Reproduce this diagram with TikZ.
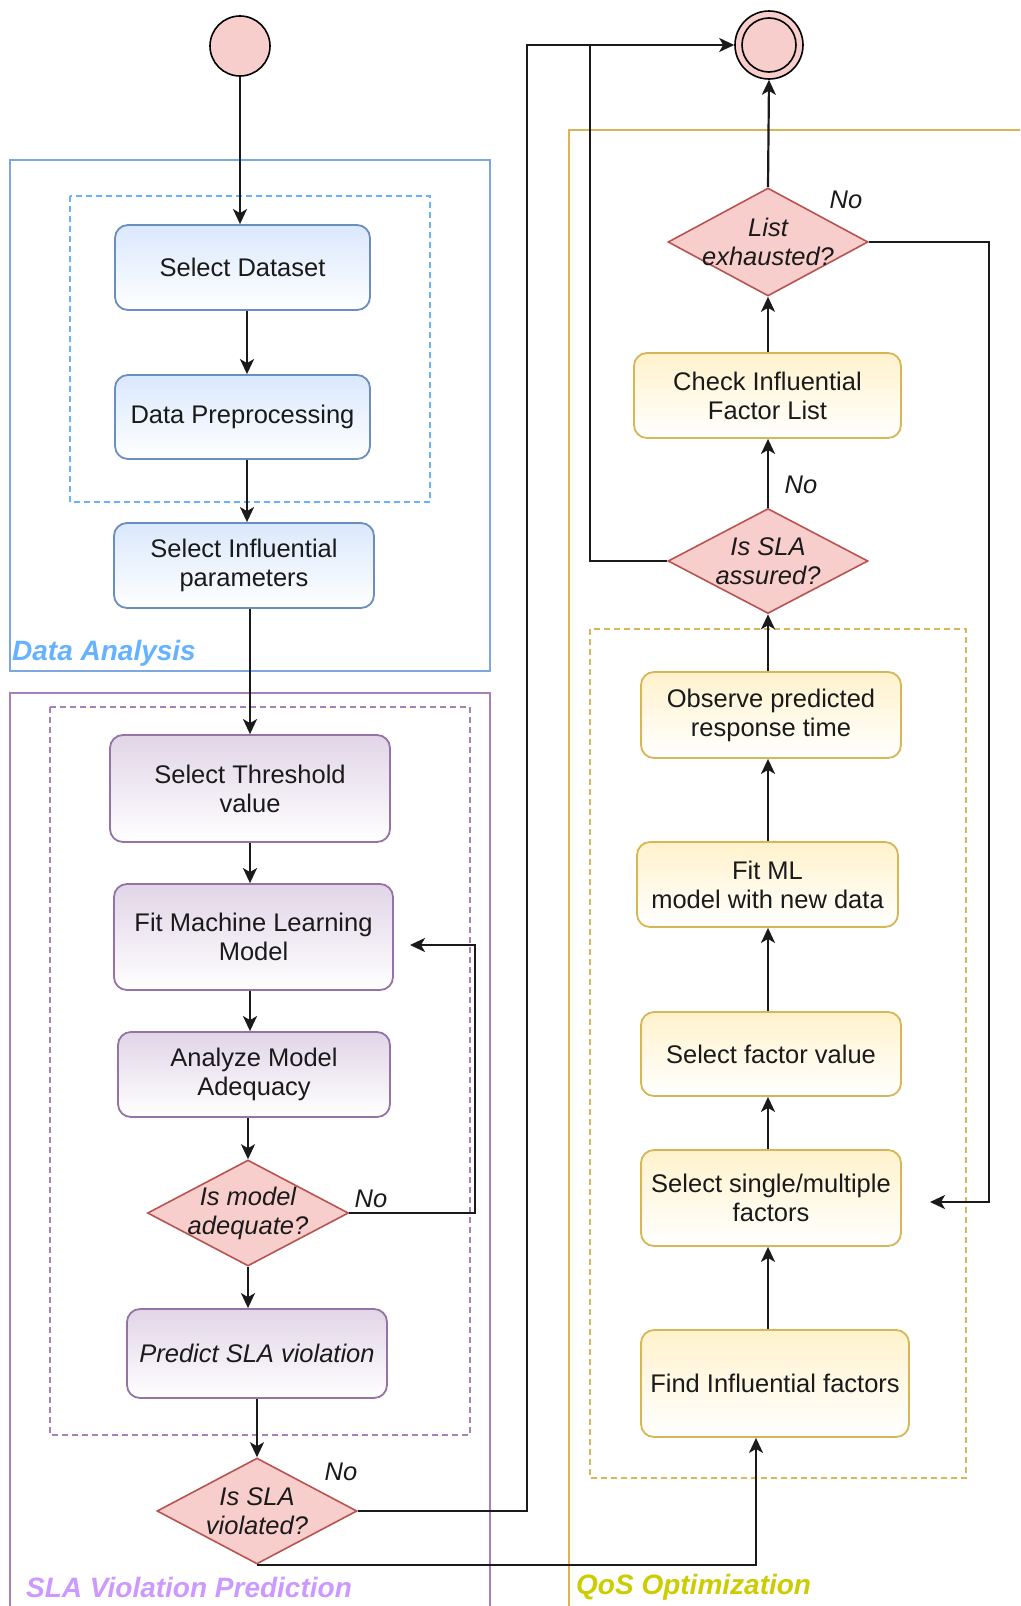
\documentclass[tikz,border=0pt]{standalone}
\usepackage{fontspec}
\setmainfont{Liberation Sans}
\usetikzlibrary{shapes.geometric,arrows.meta}

\definecolor{blueF}{HTML}{DAE8FC}
\definecolor{blueD}{HTML}{6C8EBF}
\definecolor{purF}{HTML}{E1D5E7}
\definecolor{purD}{HTML}{9673A6}
\definecolor{yelF}{HTML}{FFF2CC}
\definecolor{yelD}{HTML}{D6B656}
\definecolor{redF}{HTML}{F8CECC}
\definecolor{redD}{HTML}{B85450}
\definecolor{laneBlue}{HTML}{7EA6E0}
\definecolor{dashBlue}{HTML}{66B2FF}
\definecolor{lanePur}{HTML}{A680B8}
\definecolor{txtBlue}{HTML}{66B2FF}
\definecolor{txtPur}{HTML}{CC99FF}
\definecolor{txtYel}{HTML}{CCCC00}
\definecolor{ink}{HTML}{1A1A1A}

\begin{document}
\begin{tikzpicture}[x=1pt,y=-1pt,
  every node/.style={font=\fontsize{25.5}{29}\selectfont, text=ink},
  box/.style={rectangle, rounded corners=13pt, line width=1.8pt, align=center, inner sep=0pt},
  bluebox/.style={box, draw=blueD, top color=blueF, bottom color=white},
  purbox/.style={box, draw=purD, top color=purF, bottom color=white},
  yelbox/.style={box, draw=yelD, top color=yelF, bottom color=white},
  dia/.style={diamond, draw=redD, fill=redF, line width=1.6pt, inner sep=0pt},
  ditxt/.style={align=center, inner sep=0pt, font=\fontsize{25.5}{29}\selectfont\itshape},
  notxt/.style={inner sep=0pt, font=\fontsize{25.5}{29}\selectfont\itshape},
  flow/.style={line width=2.2pt, draw=ink, -{Stealth[length=15pt,width=14pt,inset=4pt]}},
  plain/.style={line width=2.2pt, draw=ink},
  lane/.style={line width=1.8pt},
  group/.style={line width=1.5pt, dash pattern=on 6pt off 4pt},
  lanelabel/.style={anchor=west, inner sep=0pt, font=\fontsize{28}{32}\selectfont\bfseries\itshape},
]
\useasboundingbox (0,0) rectangle (1020,1606);
\clip (0,0) rectangle (1020,1606);
\fill[white] (0,0) rectangle (1020,1606);

% swimlanes and dashed groups
\draw[lane, draw=laneBlue] (10,160) rectangle (490,671);
\draw[group, draw=dashBlue] (70,196) rectangle (430,502);
\draw[lane, draw=lanePur] (10,693) rectangle (490,1630);
\draw[group, draw=lanePur] (50,707) rectangle (470,1435);
\draw[lane, draw=yelD] (569,130) rectangle (1040,1630);
\draw[group, draw=yelD] (590,629) rectangle (966,1478);

\node[lanelabel, text=txtBlue] (labDA) at (12,653) {Data Analysis};
\node[lanelabel, text=txtPur] (labSLA) at (26,1587) {SLA Violation Prediction};
\node[lanelabel, text=txtYel] (labQoS) at (576,1587) {QoS Optimization};

% start and end states
\node[circle, draw=black, fill=redF, line width=1.6pt, minimum size=60pt, inner sep=0pt] (start) at (240,46) {};
\node[circle, draw=black, fill=redF, line width=1.6pt, minimum size=68pt, inner sep=0pt] (end) at (769,45) {};
\node[circle, draw=black, fill=redF, line width=1.6pt, minimum size=54pt, inner sep=0pt] (endin) at (end) {};

% data analysis and SLA violation prediction
\node[bluebox, minimum width=255pt, minimum height=85pt] (sd) at (242.5,267.5) {Select Dataset};
\node[bluebox, minimum width=255pt, minimum height=84pt] (dp) at (242.5,417) {Data Preprocessing};
\node[bluebox, minimum width=260pt, minimum height=85pt] (sip) at (244,565.5) {Select Influential\\parameters};
\node[purbox, minimum width=280pt, minimum height=107pt] (stv) at (250,788.5) {Select Threshold\\value};
\node[purbox, minimum width=279pt, minimum height=106pt] (fml) at (253.5,937) {Fit Machine Learning\\Model};
\node[purbox, minimum width=272pt, minimum height=85pt] (amd) at (254,1074.5) {Analyze Model\\Adequacy};
\node[dia, minimum width=201pt, minimum height=106pt] (dma) at (248,1213) {};
\node[ditxt] (dmaT) at (dma) {Is model\\adequate?};
\node[purbox, minimum width=260pt, minimum height=89pt, font=\fontsize{25.5}{29}\selectfont\itshape] (psv) at (257,1353.5) {Predict SLA violation};
\node[dia, minimum width=200pt, minimum height=106pt] (dsv) at (257,1511) {};
\node[ditxt] (dsvT) at (dsv) {Is SLA\\violated?};

% QoS optimization
\node[dia, minimum width=200pt, minimum height=108pt] (dle) at (768,242) {};
\node[ditxt] (dleT) at (dle) {List\\exhausted?};
\node[yelbox, minimum width=267pt, minimum height=85pt] (cifl) at (767.5,395.5) {Check Influential\\Factor List};
\node[dia, minimum width=200pt, minimum height=105pt] (dsa) at (768,561) {};
\node[ditxt] (dsaT) at (dsa) {Is SLA\\assured?};
\node[yelbox, minimum width=260pt, minimum height=86pt] (oprt) at (771,715) {Observe predicted\\response time};
\node[yelbox, minimum width=261pt, minimum height=85pt] (fmd) at (767.5,884.5) {Fit ML\\model with new data};
\node[yelbox, minimum width=260pt, minimum height=84pt] (sfv) at (771,1054) {Select factor value};
\node[yelbox, minimum width=260pt, minimum height=96pt] (ssm) at (771,1198) {Select single/multiple\\factors};
\node[yelbox, minimum width=268pt, minimum height=107pt] (fif) at (775,1383.5) {Find Influential factors};

% branch labels
\node[notxt] (no1) at (846,200) {No};
\node[notxt] (no2) at (801,485) {No};
\node[notxt] (no3) at (371,1199) {No};
\node[notxt] (no4) at (341,1472) {No};

% free ends of the loop-back connectors
\coordinate (fmlIn) at (410,945);
\coordinate (ssmIn) at (930,1202);
\coordinate (railTop) at (527,45);
\coordinate (railJoin) at (590,45);

% left column flow
\draw[flow] (start.south) -- (start.south |- sd.north);
\draw[flow] ([xshift=4.5pt]sd.south) -- ([xshift=4.5pt]sd.south |- dp.north);
\draw[flow] ([xshift=4.5pt]dp.south) -- ([xshift=4.5pt]dp.south |- sip.north);
\draw[flow] (stv.north |- sip.south) -- (stv.north);
\draw[flow] (stv.south) -- (stv.south |- fml.north);
\draw[flow] (fml.south -| stv.south) -- (amd.north -| stv.south);
\draw[flow] (amd.south -| dma.north) -- (dma.north);
\draw[flow] (dma.south) -- (dma.south |- psv.north);
\draw[flow] (psv.south) -- (dsv.north);
\draw[flow] (dma.east) -- ++(126,0) |- (fmlIn);

% exits of the SLA check
\draw[flow] (dsv.east) -| (railTop) -- (end);
\draw[flow] (dsv.south) -| ([xshift=-19pt]fif.south);

% right column flow
\draw[flow] (fif.north -| dsa.south) -- (ssm.south -| dsa.south);
\draw[flow] (ssm.north -| dsa.south) -- (sfv.south -| dsa.south);
\draw[flow] (sfv.north -| dsa.south) -- (fmd.south -| dsa.south);
\draw[flow] (fmd.north -| dsa.south) -- (oprt.south -| dsa.south);
\draw[flow] (oprt.north -| dsa.south) -- (dsa.south);
\draw[flow] (dsa.north) -- (cifl.south -| dsa.north);
\draw[flow] (cifl.north -| dle.south) -- (dle.south);
\draw[flow] (dle.north) -- (end.south);
\draw[plain] (dsa.west) -| (railJoin);
\draw[flow] (dle.east) -- ++(120,0) |- (ssmIn);
\end{tikzpicture}
\end{document}
